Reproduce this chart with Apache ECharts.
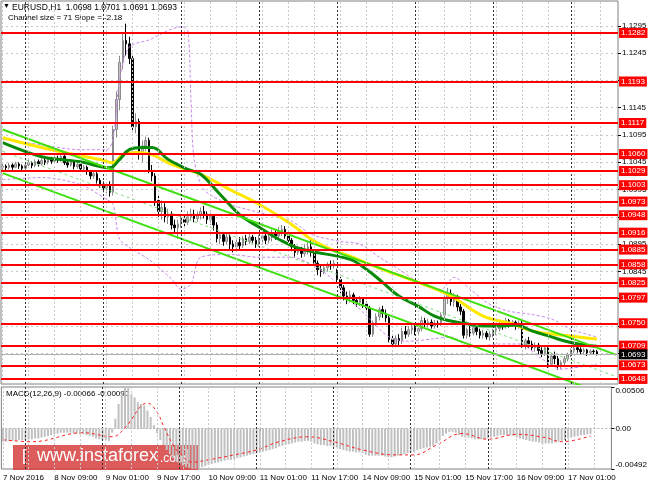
<!DOCTYPE html>
<html><head><meta charset="utf-8">
<script src="https://cdn.jsdelivr.net/npm/echarts@6/dist/echarts.min.js"></script>
<style>html,body{margin:0;padding:0;background:#fff}#c{width:650px;height:488px}</style>
</head><body><div id="c"></div>
<script>
// ---- time axis ----
const slotCount = 190;            // 184 hourly bars + 6 empty slots on the right
const tickEvery = 16;
const tickLabels = ["7 Nov 2016","8 Nov 09:00","9 Nov 01:00","9 Nov 17:00","10 Nov 09:00","11 Nov 01:00","11 Nov 17:00","14 Nov 09:00","15 Nov 01:00","15 Nov 17:00","16 Nov 09:00","17 Nov 01:00"];
const gridEvery = 8;
const daySeparators = [7,31,55,79,103,127,151,175];

// ---- candles (EURUSD H1) ----
const opens = [
1.1036,1.1038,1.1035,1.1040,1.1036,1.1042,1.1038,1.1034,1.1040,1.1044,
1.1039,1.1046,1.1042,1.1048,1.1045,1.1050,1.1047,1.1052,1.1049,1.1056,
1.1044,1.1040,1.1046,1.1037,1.1041,1.1033,1.1036,1.1028,1.1020,1.1024,
1.1012,1.1005,1.0998,1.1002,1.0990,1.1105,1.1160,1.1228,1.1268,1.1262,
1.1235,1.1110,1.1120,1.1060,1.1075,1.1085,1.1030,1.1020,1.0975,1.0955,
1.0962,1.0945,1.0950,1.0930,1.0925,1.0932,1.0940,1.0935,1.0945,1.0950,
1.0942,1.0948,1.0955,1.0950,1.0940,1.0946,1.0930,1.0905,1.0912,1.0900,
1.0908,1.0895,1.0890,1.0898,1.0892,1.0905,1.0900,1.0908,1.0902,1.0895,
1.0905,1.0910,1.0902,1.0908,1.0915,1.0910,1.0918,1.0922,1.0910,1.0902,
1.0890,1.0880,1.0885,1.0878,1.0882,1.0890,1.0880,1.0860,1.0848,1.0845,
1.0852,1.0858,1.0855,1.0845,1.0830,1.0815,1.0800,1.0795,1.0802,1.0792,
1.0788,1.0795,1.0785,1.0778,1.0730,1.0750,1.0762,1.0775,1.0768,1.0760,
1.0720,1.0712,1.0722,1.0718,1.0735,1.0730,1.0738,1.0742,1.0735,1.0740,
1.0755,1.0748,1.0752,1.0745,1.0750,1.0748,1.0765,1.0795,1.0805,1.0790,
1.0798,1.0780,1.0772,1.0728,1.0738,1.0732,1.0742,1.0735,1.0728,1.0732,
1.0725,1.0730,1.0735,1.0740,1.0748,1.0745,1.0755,1.0748,1.0752,1.0745,
1.0750,1.0710,1.0718,1.0712,1.0705,1.0710,1.0700,1.0695,1.0705,1.0675,
1.0690,1.0685,1.0672,1.0678,1.0685,1.0692,1.0700,1.0705,1.0702,1.0698,
1.0701,1.0696,1.0699,1.0698];
const closes = [
1.1038,1.1035,1.1040,1.1036,1.1042,1.1038,1.1034,1.1040,1.1044,1.1039,
1.1046,1.1042,1.1048,1.1045,1.1050,1.1047,1.1052,1.1049,1.1056,1.1044,
1.1040,1.1046,1.1037,1.1041,1.1033,1.1036,1.1028,1.1020,1.1024,1.1012,
1.1005,1.0998,1.1002,1.0990,1.1105,1.1160,1.1228,1.1268,1.1262,1.1235,
1.1110,1.1120,1.1060,1.1075,1.1085,1.1030,1.1020,1.0975,1.0955,1.0962,
1.0945,1.0950,1.0930,1.0925,1.0932,1.0940,1.0935,1.0945,1.0950,1.0942,
1.0948,1.0955,1.0950,1.0940,1.0946,1.0930,1.0905,1.0912,1.0900,1.0908,
1.0895,1.0890,1.0898,1.0892,1.0905,1.0900,1.0908,1.0902,1.0895,1.0905,
1.0910,1.0902,1.0908,1.0915,1.0910,1.0918,1.0922,1.0910,1.0902,1.0890,
1.0880,1.0885,1.0878,1.0882,1.0890,1.0880,1.0860,1.0848,1.0845,1.0852,
1.0858,1.0855,1.0860,1.0830,1.0815,1.0800,1.0795,1.0802,1.0792,1.0788,
1.0795,1.0785,1.0778,1.0730,1.0750,1.0762,1.0775,1.0768,1.0760,1.0720,
1.0712,1.0722,1.0718,1.0735,1.0730,1.0738,1.0742,1.0735,1.0740,1.0755,
1.0748,1.0752,1.0745,1.0750,1.0748,1.0765,1.0795,1.0805,1.0790,1.0798,
1.0780,1.0772,1.0728,1.0738,1.0732,1.0742,1.0735,1.0728,1.0732,1.0725,
1.0730,1.0735,1.0740,1.0748,1.0745,1.0755,1.0748,1.0752,1.0745,1.0750,
1.0710,1.0718,1.0712,1.0705,1.0710,1.0700,1.0695,1.0705,1.0675,1.0690,
1.0685,1.0672,1.0678,1.0685,1.0692,1.0700,1.0705,1.0702,1.0698,1.0701,
1.0696,1.0699,1.0698,1.0693];
const lows = [
1.1031,1.1030,1.1032,1.1031,1.1034,1.1033,1.1028,1.1031,1.1036,1.1034,
1.1036,1.1037,1.1039,1.1040,1.1041,1.1042,1.1043,1.1044,1.1046,1.1040,
1.1035,1.1037,1.1032,1.1033,1.1028,1.1027,1.1022,1.1014,1.1015,1.1006,
1.0998,1.0990,1.0988,1.0982,1.0984,1.1090,1.1140,1.1215,1.1240,1.1225,
1.1100,1.1098,1.1050,1.1045,1.1065,1.1025,1.1010,1.0965,1.0945,1.0940,
1.0935,1.0932,1.0922,1.0915,1.0905,1.0925,1.0928,1.0930,1.0938,1.0935,
1.0936,1.0940,1.0942,1.0932,1.0930,1.0920,1.0898,1.0895,1.0892,1.0895,
1.0885,1.0880,1.0882,1.0885,1.0888,1.0893,1.0895,1.0896,1.0888,1.0890,
1.0898,1.0895,1.0896,1.0900,1.0903,1.0905,1.0910,1.0905,1.0895,1.0882,
1.0872,1.0875,1.0870,1.0872,1.0876,1.0872,1.0852,1.0838,1.0835,1.0840,
1.0845,1.0848,1.0850,1.0822,1.0805,1.0792,1.0785,1.0788,1.0785,1.0780,
1.0782,1.0778,1.0770,1.0725,1.0725,1.0745,1.0755,1.0760,1.0752,1.0715,
1.0705,1.0706,1.0710,1.0712,1.0722,1.0725,1.0730,1.0728,1.0730,1.0735,
1.0742,1.0742,1.0740,1.0740,1.0742,1.0745,1.0760,1.0785,1.0782,1.0780,
1.0772,1.0765,1.0722,1.0722,1.0725,1.0728,1.0728,1.0722,1.0722,1.0720,
1.0718,1.0724,1.0728,1.0735,1.0738,1.0740,1.0742,1.0743,1.0738,1.0740,
1.0705,1.0702,1.0705,1.0700,1.0698,1.0692,1.0688,1.0690,1.0668,1.0670,
1.0675,1.0665,1.0666,1.0672,1.0680,1.0688,1.0695,1.0696,1.0692,1.0693,
1.0690,1.0692,1.0692,1.0691];
const highs = [
1.1042,1.1041,1.1044,1.1043,1.1046,1.1045,1.1041,1.1044,1.1049,1.1047,
1.1050,1.1050,1.1052,1.1053,1.1054,1.1055,1.1056,1.1057,1.1062,1.1058,
1.1048,1.1050,1.1049,1.1045,1.1044,1.1040,1.1039,1.1031,1.1029,1.1027,
1.1016,1.1010,1.1008,1.1010,1.1112,1.1175,1.1240,1.1282,1.1299,1.1275,
1.1240,1.1135,1.1125,1.1085,1.1092,1.1090,1.1040,1.1025,1.0985,1.0975,
1.0970,1.0960,1.0955,1.0940,1.0940,1.0948,1.0950,1.0955,1.0960,1.0958,
1.0955,1.0962,1.0965,1.0955,1.0952,1.0950,1.0935,1.0918,1.0916,1.0915,
1.0912,1.0902,1.0905,1.0908,1.0910,1.0912,1.0915,1.0912,1.0908,1.0912,
1.0918,1.0915,1.0914,1.0922,1.0920,1.0926,1.0930,1.0928,1.0915,1.0906,
1.0895,1.0892,1.0890,1.0895,1.0900,1.0905,1.0885,1.0865,1.0855,1.0858,
1.0862,1.0865,1.0866,1.0850,1.0835,1.0820,1.0808,1.0810,1.0806,1.0798,
1.0800,1.0798,1.0790,1.0782,1.0755,1.0768,1.0780,1.0782,1.0775,1.0765,
1.0728,1.0728,1.0730,1.0742,1.0745,1.0745,1.0750,1.0748,1.0746,1.0762,
1.0760,1.0758,1.0757,1.0756,1.0755,1.0770,1.0800,1.0815,1.0812,1.0805,
1.0802,1.0785,1.0776,1.0742,1.0745,1.0748,1.0746,1.0740,1.0738,1.0736,
1.0735,1.0740,1.0745,1.0752,1.0755,1.0760,1.0758,1.0756,1.0755,1.0755,
1.0755,1.0722,1.0725,1.0718,1.0715,1.0714,1.0706,1.0710,1.0710,1.0695,
1.0698,1.0690,1.0682,1.0690,1.0696,1.0704,1.0710,1.0708,1.0706,1.0705,
1.0703,1.0702,1.0702,1.0701];

// ---- indicators (bar index, value) ----
const yellowMA = [[0,1.1090],[15,1.1068],[30,1.1050],[34,1.1044],[37,1.1059],[41,1.1063],[46,1.1059],[52,1.1041],[61,1.1023],[70,1.0995],[79,1.0968],[89,1.0931],[95,1.0904],[101,1.0886],[107,1.0873],[113,1.0858],[121,1.0840],[128,1.0825],[138,1.0800],[148,1.0763],[157,1.0749],[163,1.0736],[174,1.0727],[183,1.0721]];
const greenMA = [[0,1.1081],[12,1.1055],[18,1.1050],[24,1.1046],[33,1.1035],[36,1.1050],[39,1.1068],[43,1.1072],[46,1.1072],[51,1.1050],[57,1.1032],[61,1.1023],[67,1.0986],[73,1.0949],[79,1.0926],[85,1.0904],[92,1.0886],[107,1.0867],[112,1.0849],[117,1.0825],[122,1.0800],[128,1.0781],[133,1.0763],[138,1.0754],[143,1.0749],[148,1.0745],[153,1.0745],[158,1.0747],[163,1.0736],[169,1.0725],[174,1.0716],[179,1.0710],[183,1.0708]];
const bbUpper = [[0,1.1087],[12,1.1077],[24,1.1068],[32,1.1068],[34,1.1087],[36,1.1196],[39,1.1256],[45,1.1269],[55,1.1293],[57,1.1287],[58,1.1160],[59,1.1050],[62,1.0995],[70,1.0968],[79,1.0953],[89,1.0937],[95,1.0913],[104,1.0900],[110,1.0895],[116,1.0871],[122,1.0849],[129,1.0822],[135,1.0812],[139,1.0834],[144,1.0812],[150,1.0785],[156,1.0772],[162,1.0767],[169,1.0758],[175,1.0739],[183,1.0725]];
const bbLower = [[0,1.1013],[12,1.1017],[24,1.1004],[32,1.0977],[34,1.0968],[36,1.0904],[39,1.0889],[45,1.0867],[52,1.0831],[55,1.0812],[58,1.0822],[61,1.0871],[70,1.0876],[79,1.0871],[89,1.0871],[95,1.0858],[101,1.0834],[107,1.0794],[113,1.0758],[119,1.0725],[125,1.0717],[132,1.0721],[138,1.0725],[144,1.0706],[153,1.0712],[159,1.0712],[166,1.0685],[172,1.0666],[178,1.0670],[183,1.0675]];
const channelUpper = [[0,1.1105],[189,1.0692]];
const channelMiddle = [[0,1.1065],[189,1.0652]];
const channelLower = [[0,1.1025],[189,1.0612]];

// ---- horizontal levels ----
const levels = [1.1282,1.1193,1.1117,1.1060,1.1029,1.1003,1.0973,1.0948,1.0916,1.0885,1.0858,1.0825,1.0797,1.0750,1.0709,1.0673,1.0648];
const bidPrice = 1.0693;
const priceTicks = [1.1295,1.1245,1.1195,1.1145,1.1095,1.1045,1.0995,1.0945,1.0895,1.0845,1.0795,1.0745,1.0695];
const priceMin = 1.06387, priceMax = 1.13405;

// ---- MACD(12,26,9) ----
const macdHist = [
-0.0016,-0.0016,-0.0015,-0.0015,-0.0015,-0.0014,-0.0014,-0.0014,-0.0013,-0.0013,
-0.0012,-0.0012,-0.0011,-0.0010,-0.0009,-0.0008,-0.0007,-0.0006,-0.0005,-0.0005,
-0.0005,-0.0005,-0.0006,-0.0006,-0.0007,-0.0007,-0.0008,-0.0009,-0.0010,-0.0012,
-0.0013,-0.0014,-0.0014,-0.0015,-0.0005,0.0012,0.0030,0.0043,0.0050,0.0050,
0.0042,0.0038,0.0032,0.0030,0.0028,0.0022,0.0014,0.0004,-0.0006,-0.0014,
-0.0020,-0.0026,-0.0031,-0.0036,-0.0040,-0.0043,-0.0045,-0.0047,-0.0048,-0.0049,
-0.0049,-0.0048,-0.0047,-0.0046,-0.0044,-0.0043,-0.0042,-0.0041,-0.0040,-0.0039,
-0.0038,-0.0038,-0.0037,-0.0036,-0.0035,-0.0034,-0.0033,-0.0032,-0.0031,-0.0030,
-0.0029,-0.0028,-0.0027,-0.0026,-0.0025,-0.0024,-0.0022,-0.0021,-0.0020,-0.0019,
-0.0018,-0.0017,-0.0016,-0.0016,-0.0015,-0.0015,-0.0016,-0.0018,-0.0019,-0.0020,
-0.0020,-0.0021,-0.0021,-0.0022,-0.0023,-0.0025,-0.0026,-0.0027,-0.0028,-0.0028,
-0.0029,-0.0029,-0.0030,-0.0032,-0.0033,-0.0033,-0.0033,-0.0033,-0.0033,-0.0034,
-0.0035,-0.0035,-0.0034,-0.0033,-0.0032,-0.0031,-0.0030,-0.0029,-0.0028,-0.0026,
-0.0025,-0.0024,-0.0023,-0.0022,-0.0021,-0.0018,-0.0014,-0.0009,-0.0006,-0.0004,
-0.0004,-0.0005,-0.0008,-0.0010,-0.0011,-0.0011,-0.0012,-0.0013,-0.0013,-0.0013,
-0.0013,-0.0012,-0.0011,-0.0010,-0.0009,-0.0008,-0.0008,-0.0008,-0.0008,-0.0009,
-0.0011,-0.0012,-0.0013,-0.0014,-0.0015,-0.0016,-0.0016,-0.0017,-0.0018,-0.0018,
-0.0018,-0.0018,-0.0017,-0.0016,-0.0015,-0.0014,-0.0012,-0.0011,-0.0010,-0.0009,
-0.0008,-0.0008,-0.0007,-0.00066];
const macdSignal = [[0,-0.00136],[9,-0.0016],[25,-0.0005],[34,-0.0010],[38,0.0001],[45,0.0031],[48,0.0020],[50,0.0003],[53,-0.0020],[55,-0.0030],[59,-0.0041],[64,-0.0038],[72,-0.0032],[79,-0.0026],[86,-0.0016],[95,-0.0010],[103,-0.0016],[112,-0.0026],[122,-0.0032],[128,-0.0032],[135,-0.0020],[143,-0.0006],[151,-0.0013],[160,-0.0007],[169,-0.0011],[174,-0.0016],[183,-0.0009]];
const macdMin = -0.00492, macdMax = 0.00506;

// ---------------------------------------------------------------
const FONT = 'Liberation Sans, Arial, sans-serif';
const categories = Array.from({length: slotCount}, (_, i) => i);
const gridLines = categories.filter(i => i % gridEvery === 0);
const candleData = opens.map((o, i) => [o, closes[i], lows[i], highs[i]]);

const vLines = (gridColor, sepColor) => ({
  silent: true, symbol: ['none','none'], animation: false, precision: 0,
  label: {show: false},
  data: gridLines.map(i => ({xAxis: i, lineStyle: {color: gridColor, width: 1, type: [2,2]}}))
    .concat(daySeparators.map(i => ({xAxis: i, lineStyle: {color: sepColor, width: 1, type: [2,2]}})))
});

const chart = echarts.init(document.getElementById('c'), null, {renderer: 'canvas'});
chart.setOption({
  animation: false,
  backgroundColor: '#ffffff',
  textStyle: {fontFamily: FONT},
  grid: [
    {left: 1, top: 1, width: 617, height: 383, show: true, borderColor: '#808080', borderWidth: 1, backgroundColor: '#fff'},
    {left: 1, top: 387, width: 617, height: 82, show: true, borderColor: '#808080', borderWidth: 1, backgroundColor: '#fff'}
  ],
  xAxis: [
    {type: 'category', gridIndex: 0, data: categories, boundaryGap: true,
     axisLine: {show: false}, axisTick: {show: false}, axisLabel: {show: false}, splitLine: {show: false}},
    {type: 'category', gridIndex: 1, data: categories, boundaryGap: true,
     axisLine: {show: false},
     axisTick: {show: true, alignWithLabel: true, interval: (i) => i % tickEvery === 0, length: 3, lineStyle: {color: '#000'}},
     axisLabel: {show: true, interval: (i) => i % tickEvery === 0, align: 'left', margin: 5,
       formatter: (v, i) => tickLabels[Math.round(i / tickEvery)] || '', fontSize: 8, color: '#000', fontFamily: FONT},
     splitLine: {show: false}}
  ],
  yAxis: [
    {type: 'value', gridIndex: 0, position: 'right', min: priceMin, max: priceMax,
     axisLine: {show: false},
     axisTick: {show: true, customValues: priceTicks, length: 3, lineStyle: {color: '#000'}},
     axisLabel: {show: true, customValues: priceTicks, formatter: v => v.toFixed(4), fontSize: 8, color: '#000', margin: 4, fontFamily: FONT},
     splitLine: {show: true, lineStyle: {color: '#c8c8c8', type: [2,3], width: 1}}},
    {type: 'value', gridIndex: 1, position: 'right', min: macdMin, max: macdMax,
     axisLine: {show: false},
     axisTick: {show: true, customValues: [macdMin, 0, macdMax], length: 3, lineStyle: {color: '#000'}},
     axisLabel: {show: true, customValues: [macdMin, 0, macdMax], fontSize: 8, color: '#000', margin: 4, fontFamily: FONT,
       formatter: v => (Math.abs(v) < 1e-9 ? '0.00' : v.toFixed(5)),
       verticalAlignMinLabel: 'bottom', verticalAlignMaxLabel: 'top'},
     splitLine: {show: false}}
  ],
  series: [
    {type: 'line', xAxisIndex: 0, yAxisIndex: 0, data: [], markLine: vLines('#c8c8c8', '#303030')},
    {type: 'candlestick', xAxisIndex: 0, yAxisIndex: 0, data: candleData, barWidth: 2,
     itemStyle: {color: '#c4c4c4', color0: '#000000', borderColor: '#8a8a8a', borderColor0: '#000000', borderWidth: 1}},
    {type: 'line', xAxisIndex: 0, yAxisIndex: 0, data: bbUpper, smooth: 0.3, symbol: 'none',
     lineStyle: {color: '#cc88ee', width: 1, type: [3,2]}},
    {type: 'line', xAxisIndex: 0, yAxisIndex: 0, data: bbLower, smooth: 0.3, symbol: 'none',
     lineStyle: {color: '#cc88ee', width: 1, type: [3,2]}},
    {type: 'line', xAxisIndex: 0, yAxisIndex: 0, data: yellowMA, smooth: 0.4, symbol: 'none',
     lineStyle: {color: '#ffe800', width: 3}},
    {type: 'line', xAxisIndex: 0, yAxisIndex: 0, data: greenMA, smooth: 0.4, symbol: 'none',
     lineStyle: {color: '#0a8a0a', width: 3}},
    {type: 'line', xAxisIndex: 0, yAxisIndex: 0, data: channelUpper, symbol: 'none',
     lineStyle: {color: '#40e010', width: 2}},
    {type: 'line', xAxisIndex: 0, yAxisIndex: 0, data: channelMiddle, symbol: 'none',
     lineStyle: {color: '#80e080', width: 1, type: [3,3]}},
    {type: 'line', xAxisIndex: 0, yAxisIndex: 0, data: channelLower, symbol: 'none',
     lineStyle: {color: '#40e010', width: 2}},
    {type: 'line', xAxisIndex: 0, yAxisIndex: 0, data: [],
     markLine: {silent: true, symbol: ['none','none'], animation: false, precision: 4,
       lineStyle: {color: '#ff0000', width: 2, type: 'solid'},
       label: {show: true, position: 'end', distance: 1, formatter: p => Number(p.value).toFixed(4),
               backgroundColor: '#ff0000', color: '#ffffff', fontSize: 8, padding: [1,2,1,2], fontFamily: FONT},
       data: levels.map(v => ({yAxis: v}))
         .concat([{yAxis: bidPrice, lineStyle: {color: '#b0b0b0', width: 1, type: 'solid'},
                   label: {backgroundColor: '#000', color: '#fff'}}])}},
    // MACD panel
    {type: 'line', xAxisIndex: 1, yAxisIndex: 1, data: [], markLine: vLines('#c8c8c8', '#303030')},
    {type: 'bar', xAxisIndex: 1, yAxisIndex: 1, data: macdHist, barWidth: 2,
     itemStyle: {color: '#c0c0c0'},
     markLine: {silent: true, symbol: ['none','none'], label: {show: false}, precision: 5,
       lineStyle: {color: '#b0b0b0', type: [2,2], width: 1}, data: [{yAxis: 0}]}},
    {type: 'line', xAxisIndex: 1, yAxisIndex: 1, data: macdSignal, smooth: 0.4, symbol: 'none',
     lineStyle: {color: '#ff2020', width: 1, type: [3,3]}}
  ],
  graphic: [
    {type: 'text', left: 3, top: 3, style: {text: '\u25BC', fontSize: 7, fill: '#000', fontFamily: FONT}},
    {type: 'text', left: 12, top: 3, style: {text: 'EURUSD,H1  1.0698 1.0701 1.0691 1.0693', fontSize: 8.5, fill: '#000', fontFamily: FONT}},
    {type: 'text', left: 8, top: 14, style: {text: 'Channel size = 71 Slope = -2.18', fontSize: 8, fill: '#000', fontFamily: FONT}},
    {type: 'text', left: 6, top: 390, style: {text: 'MACD(12,26,9) -0.00066 -0.00090', fontSize: 8, fill: '#000', fontFamily: FONT}},
    {type: 'group', left: 13, top: 445, children: [
      {type: 'rect', shape: {x: 0, y: 0, width: 185, height: 25}, style: {fill: 'rgba(214,62,62,0.85)'}},
      {type: 'text', x: 9, y: 3, style: {text: '[', fontSize: 17, fill: '#ffffff', fontFamily: FONT}},
      {type: 'text', x: 24, y: 2, style: {text: 'www.instaforex', fontSize: 18, fill: '#ffffff', fontFamily: FONT}},
      {type: 'text', x: 147, y: 8, style: {text: '.com', fontSize: 12, fill: '#ffffff', fontFamily: FONT}},
      {type: 'text', x: 171, y: 3, style: {text: ']', fontSize: 17, fill: '#ffffff', fontFamily: FONT}}
    ]}
  ]
});
</script></body></html>
